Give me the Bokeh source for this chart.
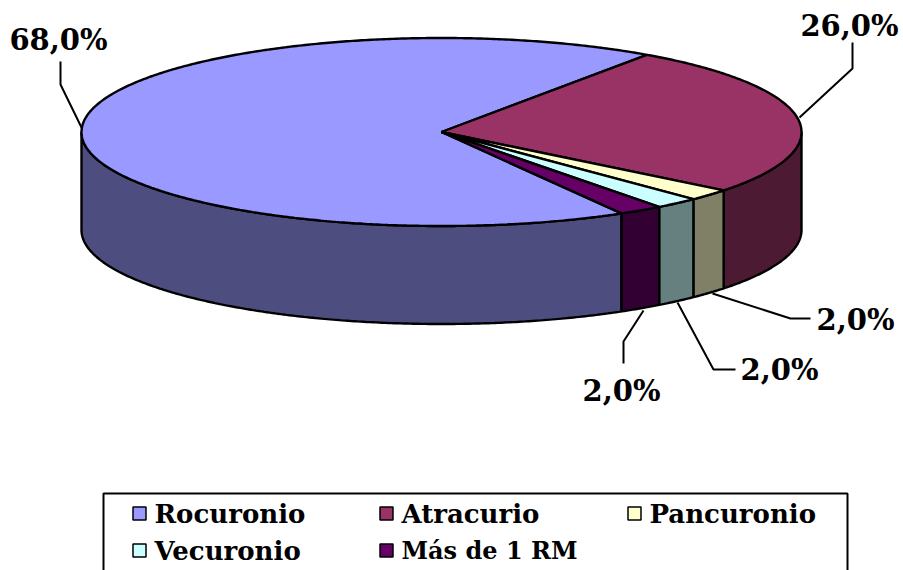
import numpy as np
from bokeh.core.properties import value
from bokeh.embed import file_html
from bokeh.models import Range1d
from bokeh.plotting import figure
from bokeh.resources import INLINE

# Share of each neuromuscular blocker, in percent
categories = ["Rocuronio", "Atracurio", "Pancuronio", "Vecuronio", "Más de 1 RM"]
shares = [68.0, 26.0, 2.0, 2.0, 2.0]
pct_labels = ["68,0%", "26,0%", "2,0%", "2,0%", "2,0%"]
top_colors = ["#9999FF", "#993366", "#FFFFCC", "#CCFFFF", "#660066"]
side_colors = ["#4D4D80", "#4D1A33", "#808066", "#668080", "#330033"]

FONT = value("DejaVu Serif")
CX, CY, RX, RY, DEPTH = 441.0, 131.5, 360.0, 94.0, 98.0
START_DEG = 300.0  # first slice starts here and runs clockwise


def rim(a0, a1, drop=0.0):
    """Points on the projected rim between two angles in degrees."""
    n = max(2, int(abs(a1 - a0) * 2) + 1)
    t = np.radians(np.linspace(a0, a1, n))
    return CX + RX * np.cos(t), CY - RY * np.sin(t) + drop


p = figure(width=903, height=570, output_backend="svg", toolbar_location=None,
           x_range=Range1d(0, 903), y_range=Range1d(570, 0),
           min_border=0, outline_line_color=None)
p.axis.visible = False
p.grid.visible = False

# Slice boundaries in degrees, decreasing because the slices run clockwise
edges = START_DEG - 3.6 * np.concatenate([[0.0], np.cumsum(shares)])

# Outer wall: only the part of each slice facing the viewer
for i in range(len(shares)):
    hi_a, lo_a = edges[i], edges[i + 1]
    for lo, hi in [(180.0, 360.0), (-180.0, 0.0)]:
        s, e = min(hi_a, hi), max(lo_a, lo)
        if e < s:
            tx, ty = rim(s, e)
            bx, by = rim(e, s, DEPTH)
            p.patch(np.r_[tx, bx], np.r_[ty, by], fill_color=side_colors[i],
                    line_color="black", line_width=2.4)

# Top face
for i in range(len(shares)):
    x, y = rim(edges[i], edges[i + 1])
    p.patch(np.r_[CX, x], np.r_[CY, y], fill_color=top_colors[i],
            line_color="black", line_width=2.4)

# Leader lines from the slices to their value labels
leaders = [
    ([60, 60, 81], [61, 84, 127]),
    ([852, 852, 799], [42, 68, 117]),
    ([712, 790, 810], [293, 318, 318]),
    ([677, 713, 735], [302, 369, 369]),
    ([643, 623, 623], [310, 341, 363]),
]
for lx, ly in leaders:
    p.line(lx, ly, line_color="black", line_width=2)

# Value labels
label_x = [58, 849, 855, 779, 621]
label_y = [39, 25, 319, 369, 390]
label_size = ["29px", "29px", "29px", "29px", "29px"]
p.text(label_x, label_y, text=pct_labels, text_font=FONT, text_font_style="bold",
       text_font_size=label_size, text_align="center", text_baseline="middle",
       text_color="black")

# Legend
p.quad(left=[103], right=[847], top=[493], bottom=[590], fill_color="white",
       line_color="black", line_width=2)
swatch_x = [139, 386, 634, 139, 386]
swatch_y = [513, 513, 513, 550, 550]
p.scatter(swatch_x, swatch_y, size=13, marker="square", fill_color=top_colors,
          line_color="black", line_width=1.5)
p.text([x + 15 for x in swatch_x], swatch_y, text=categories, text_font=FONT,
       text_font_style="bold", text_font_size=["26px", "26px", "26px", "26px", "24px"],
       text_align="left", text_baseline="middle", text_color="black")

open("out.html", "w").write(file_html(p, INLINE))
